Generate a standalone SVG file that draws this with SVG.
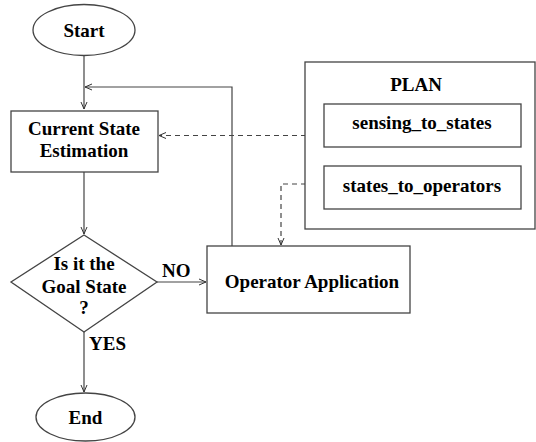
<svg xmlns="http://www.w3.org/2000/svg" width="536" height="442" viewBox="0 0 536 442">
<defs>
<marker id="ah" markerWidth="8" markerHeight="8" refX="7" refY="4" orient="auto" markerUnits="userSpaceOnUse">
<polyline points="0,1 7,4 0,7" fill="none" stroke="#333" stroke-width="1"/>
</marker>
</defs>
<style>
.s{fill:#fff;stroke:#444;stroke-width:1.3}
.t{font-family:"Liberation Serif",serif;font-weight:bold;font-size:19px;fill:#000;text-anchor:middle}
.l{fill:none;stroke:#444;stroke-width:1.2}
.d{fill:none;stroke:#444;stroke-width:1.2;stroke-dasharray:5,4}
</style>
<rect width="536" height="442" fill="#fff"/>
<g id="connectors">
<path class="l" d="M84,55 V109" marker-end="url(#ah)"/>
<path class="l" d="M232,246 V87 H85" marker-end="url(#ah)"/>
<path class="l" d="M84,172 V234" marker-end="url(#ah)"/>
<path class="l" d="M157,282 H206" marker-end="url(#ah)"/>
<path class="l" d="M84,332 V392" marker-end="url(#ah)"/>
<path class="d" d="M324,135.5 H159" marker-end="url(#ah)"/>
<path class="d" d="M324,184 H281 V245" marker-end="url(#ah)"/>
<text class="t" x="162" y="277" style="text-anchor:start">NO</text>
<text class="t" x="89" y="350" style="text-anchor:start">YES</text>
</g>
<g id="start">
<ellipse class="s" cx="84" cy="30" rx="51" ry="25.5"/>
<text class="t" x="84" y="37">Start</text>
</g>
<g id="current">
<rect class="s" x="11" y="111" width="147" height="61"/>
<text class="t" x="84" y="135">Current State</text>
<text class="t" x="84" y="157">Estimation</text>
</g>
<g id="decision">
<polygon class="s" points="84,235 157,282 84,332 11,282"/>
<text class="t" x="84" y="270">Is it the</text>
<text class="t" x="84" y="293">Goal State</text>
<text class="t" x="84" y="314">?</text>
</g>
<g id="operator">
<rect class="s" x="207" y="246" width="203" height="67"/>
<text class="t" x="312" y="288">Operator Application</text>
</g>
<g id="end">
<ellipse class="s" cx="85.5" cy="417" rx="49.5" ry="24"/>
<text class="t" x="85.5" y="424">End</text>
</g>
<g id="plan">
<rect class="s" x="305" y="62" width="230" height="167"/>
<text class="t" x="416" y="91">PLAN</text>
</g>
<g id="sensing">
<rect class="s" x="324" y="104" width="197" height="43"/>
<text class="t" x="422" y="129">sensing_to_states</text>
</g>
<g id="states">
<rect class="s" x="324" y="166" width="197" height="43"/>
<text class="t" x="422" y="192">states_to_operators</text>
</g>
</svg>
